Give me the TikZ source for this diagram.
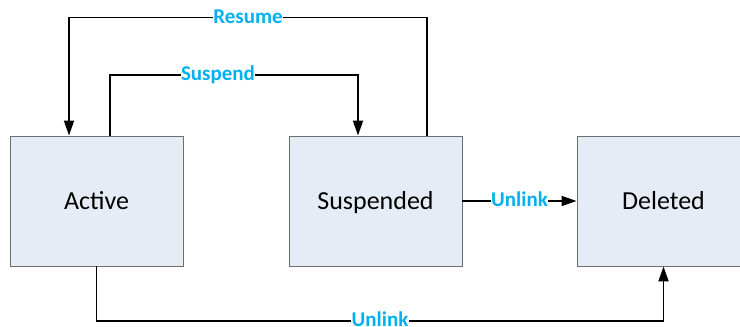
\documentclass[tikz,border=0pt]{standalone}
\usepackage{fontspec}
\setmainfont{Carlito}
\usetikzlibrary{arrows.meta}
\definecolor{boxfill}{HTML}{E6ECF6}
\definecolor{boxline}{HTML}{6E6E6E}
\definecolor{lbl}{HTML}{00B0F0}
\begin{document}
\begin{tikzpicture}[x=1pt,y=-1pt,
  state/.style={draw=boxline,line width=0.9pt,fill=boxfill,minimum width=173pt,minimum height=130pt,inner sep=0pt,text height=17pt,text depth=1pt,font=\fontsize{26}{30}\selectfont},
  conn/.style={draw=black,line width=1.8pt,-{Triangle[length=15pt,width=10pt]}},
  lab/.style={fill=white,text=lbl,font=\bfseries\fontsize{21}{24}\selectfont,inner sep=0.5pt,text height=13pt,text depth=2pt}]
\useasboundingbox (0,0) rectangle (740,327);
\fill[white] (0,0) rectangle (740,327);
\node[state] (act) at (96.5,201) {Active};
\node[state] (sus) at (375.5,201) {Suspended};
\node[state] (del) at (663.5,201) {Deleted};
\coordinate (s1) at (110,75);
\coordinate (s2) at (358,75);
\coordinate (r1) at (427,17.5);
\coordinate (r2) at (69,17.5);
\coordinate (u1) at (96.5,321);
\coordinate (u2) at (663.5,321);
\draw[conn] (act.north -| s1) -- (s1) -- node[lab,pos=0.5,xshift=-16pt]{Suspend} (s2) -- (sus.north -| s2);
\draw[conn] (sus.north -| r1) -- (r1) -- node[lab,pos=0.5]{Resume} (r2) -- (act.north -| r2);
\draw[conn] (act.south) -- (u1) -- node[lab,pos=0.5]{Unlink} (u2) -- (del.south);
\draw[conn] (sus.east) -- node[lab,pos=0.5]{Unlink} (del.west);
\end{tikzpicture}
\end{document}
